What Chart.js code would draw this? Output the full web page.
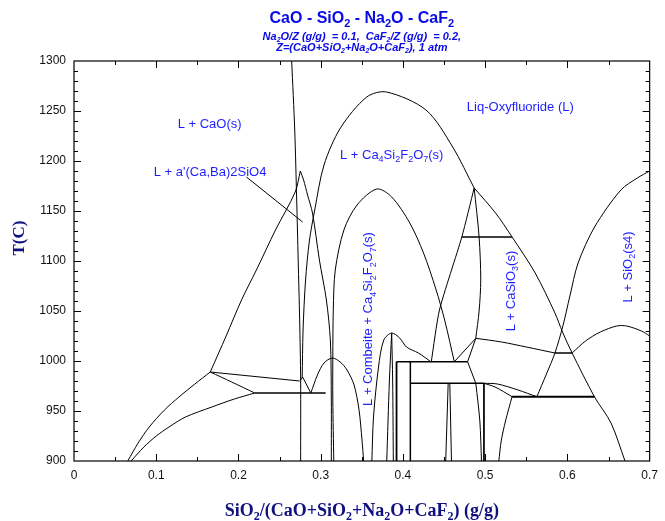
<!DOCTYPE html>
<html>
<head>
<meta charset="utf-8">
<script src="https://cdn.jsdelivr.net/npm/chart.js@4.4.1/dist/chart.umd.min.js"></script>
<style>
  html, body { margin: 0; padding: 0; background: #fff; }
  canvas { display: block; }
</style>
</head>
<body>
<canvas id="chart" width="665" height="521"></canvas>
<script>
// axis ticks
const xTicks = [0, 0.1, 0.2, 0.3, 0.4, 0.5, 0.6, 0.7];
const yTicks = [900, 950, 1000, 1050, 1100, 1150, 1200, 1250, 1300];

// phase boundaries, [SiO2 fraction, T(C)]
const caoLiquidus = [[0.2647,1300],[0.2684,1231],[0.2708,1161],[0.2726,1101],[0.2744,1041],[0.2756,981],[0.2756,900]];
const c2sLiquidusLow = [[0.0654,900],[0.078,918],[0.0915,934],[0.11,951],[0.1276,964],[0.147,977],[0.1657,989]];
const c2sLiquidusHigh = [[0.1657,989],[0.185,1025],[0.2037,1061],[0.2218,1091],[0.245,1131],[0.269,1169],[0.2752,1190]];
const c2sPeakRight = [[0.2752,1190],[0.2792,1181],[0.284,1166],[0.29,1148],[0.2984,1101],[0.3069,1061],[0.3117,1021],[0.3129,961],[0.3129,900]];
const solidusLow = [[0.0694,900],[0.085,914],[0.1,925],[0.1155,934],[0.1356,944],[0.1676,954],[0.195,962],[0.2198,968]];
const c2sBranch = [[0.1657,989],[0.1917,979],[0.2198,968]];
const tie989 = [[0.1657,989],[0.2744,980]];
const tie968 = [[0.2198,968],[0.306,968]];
const bumpLine = [[0.2756,981],[0.278,984],[0.288,968]];
const smallDome1 = [[0.288,968],[0.296,986],[0.304,998],[0.314,1003],[0.3237,999],[0.332,991],[0.3406,976],[0.3466,951],[0.3502,921],[0.3522,900]];
const ca4Liquidus = [[0.2775,983],[0.2785,1030],[0.2815,1080],[0.2862,1120],[0.2925,1150],[0.304,1196],[0.324,1233],[0.356,1264],[0.38,1269],[0.428,1251],[0.4605,1214],[0.4866,1173]];
const casio3Liquidus = [[0.4866,1173],[0.5126,1148],[0.5327,1124],[0.5608,1088],[0.5848,1048],[0.594,1029],[0.6057,1008],[0.633,964],[0.653,938],[0.67,900]];
const combeiteDome = [[0.3159,900],[0.3147,961],[0.3147,1003],[0.3153,1051],[0.3177,1091],[0.3282,1131],[0.3442,1156],[0.3682,1172],[0.3863,1164],[0.4083,1138],[0.425,1108],[0.44,1072],[0.451,1040],[0.4625,999]];
const smallDome2 = [[0.3622,900],[0.3642,944],[0.3703,994],[0.3767,1021],[0.3863,1028],[0.396,1023],[0.4043,1014],[0.4188,1008],[0.4344,999]];
const domeStem1 = [[0.3863,1028],[0.3835,980],[0.3803,900]];
const domeStem2 = [[0.3863,1028],[0.3875,980],[0.3883,900]];
const casio3LeftA = [[0.4866,1173],[0.4716,1124],[0.4444,1051],[0.4344,999]];
const casio3LeftB = [[0.4866,1173],[0.4926,1124],[0.4946,1081],[0.4926,1050],[0.4886,1023]];
const tie1124 = [[0.4716,1124],[0.5327,1124]];
const tie999 = [[0.3922,999.3],[0.4786,999.3]];
const tie978 = [[0.409,977.7],[0.4985,977.7]];
const wall392 = [[0.3922,999.3],[0.3922,900]];
const wall409 = [[0.409,999.3],[0.409,900]];
const link1 = [[0.4625,999.3],[0.4886,1022.7]];
const link2 = [[0.4786,999.3],[0.4886,1022.7]];
const link3 = [[0.4786,999.3],[0.4886,977.7]];
const stemA = [[0.455,977.7],[0.452,900]];
const stemB = [[0.457,977.7],[0.459,900]];
const stemC = [[0.4886,977.7],[0.4935,940],[0.4955,900]];
const stemD = [[0.4985,977.7],[0.4985,900]];
const line1022 = [[0.4886,1022.7],[0.52,1019],[0.55,1014],[0.5848,1008]];
const tie1008 = [[0.5848,1008],[0.6057,1008]];
const sio2Liquidus = [[0.5627,964],[0.5745,987],[0.5848,1008],[0.5945,1035],[0.603,1065],[0.613,1098],[0.633,1134],[0.665,1171],[0.685,1183],[0.7,1190]];
const domeRight = [[0.6057,1008],[0.622,1020],[0.64,1029],[0.66,1035],[0.672,1035],[0.69,1030],[0.7,1025]];
const tie964 = [[0.5327,964.3],[0.633,964.3]];
const curveX1 = [[0.4985,977.7],[0.515,977],[0.54,971],[0.5627,964.3]];
const curveX2 = [[0.4985,977.7],[0.512,974],[0.5327,964.3]];
const stemE = [[0.5327,964.3],[0.5247,940],[0.5195,920],[0.5166,900]];
const pointer = [[0.2097,1184],[0.278,1139]];

// [points, line width, tension]
const lines = [
  [caoLiquidus, 1, 0.3], [c2sLiquidusLow, 1, 0.3], [c2sLiquidusHigh, 1, 0.3],
  [c2sPeakRight, 1, 0.3], [solidusLow, 1, 0.3], [c2sBranch, 1, 0.3],
  [tie989, 1, 0], [tie968, 1.3, 0], [bumpLine, 1, 0], [smallDome1, 1, 0.3],
  [ca4Liquidus, 1, 0.3], [casio3Liquidus, 1, 0.3], [combeiteDome, 1, 0.3],
  [smallDome2, 1, 0.3], [domeStem1, 1, 0.3], [domeStem2, 1, 0.3],
  [casio3LeftA, 1, 0.2], [casio3LeftB, 1, 0.3], [tie1124, 1.3, 0],
  [tie999, 1.5, 0], [tie978, 1.5, 0], [wall392, 1.8, 0], [wall409, 1.5, 0],
  [link1, 1, 0], [link2, 1, 0], [link3, 1, 0], [stemA, 1, 0], [stemB, 1, 0],
  [stemC, 1, 0.3], [stemD, 1, 0], [line1022, 1, 0.3], [tie1008, 1.3, 0],
  [sio2Liquidus, 1, 0.3], [domeRight, 1, 0.3], [tie964, 2, 0],
  [curveX1, 1, 0.3], [curveX2, 1, 0.3], [stemE, 1, 0.3], [pointer, 1, 0]
];

// region labels: text ("_" marks a subscript char), x, T, rotated
const regionLabels = [
  ['L + CaO(s)', 0.1649, 1237, false],
  ["L + a'(Ca,Ba)2SiO4", 0.1655, 1189, false],
  ['L + Ca_4Si_2F_2O_7(s)', 0.3863, 1206, false],
  ['Liq-Oxyfluoride (L)', 0.5427, 1254, false],
  ['L + Combeite + Ca_4Si_2F_2O_7(s)', 0.3586, 1042, true],
  ['L + CaSiO_3(s)', 0.5319, 1070, true],
  ['L + SiO_2(s4)', 0.6739, 1094, true]
];

const SANS = '"Liberation Sans", Arial, sans-serif';
const SERIF = '"Liberation Serif", "Times New Roman", serif';

function parseRich(str) {
  const segs = [];
  let buf = '';
  for (let i = 0; i < str.length; i++) {
    if (str[i] === '_' && i + 1 < str.length) {
      if (buf) segs.push([buf, false]);
      buf = '';
      segs.push([str[i + 1], true]);
      i++;
    } else buf += str[i];
  }
  if (buf) segs.push([buf, false]);
  return segs;
}

function drawRich(ctx, str, x, y, size, style, family, color) {
  const segs = parseRich(str);
  const big = style + ' ' + size + 'px ' + family;
  const small = style + ' ' + Math.round(size * 0.68) + 'px ' + family;
  let w = 0;
  segs.forEach(s => { ctx.font = s[1] ? small : big; w += ctx.measureText(s[0]).width; });
  let cx = x - w / 2;
  ctx.fillStyle = color;
  ctx.textBaseline = 'middle';
  ctx.textAlign = 'left';
  segs.forEach(s => {
    ctx.font = s[1] ? small : big;
    ctx.fillText(s[0], cx, s[1] ? y + size * 0.32 : y);
    cx += ctx.measureText(s[0]).width;
  });
}

const decorations = {
  id: 'decorations',
  afterDraw(chart) {
    const ctx = chart.ctx;
    const a = chart.chartArea;
    const xs = chart.scales.x, ys = chart.scales.y;
    ctx.save();

    // frame
    ctx.strokeStyle = '#000';
    ctx.lineWidth = 1.2;
    ctx.strokeRect(a.left, a.top, a.right - a.left, a.bottom - a.top);

    // inward ticks on all four sides
    ctx.lineWidth = 1;
    ctx.beginPath();
    for (let i = 1; i < 14; i++) {
      const v = i * 0.05;
      const px = Math.round(xs.getPixelForValue(v)) + 0.5;
      const len = i % 2 === 0 ? 7 : 4;
      ctx.moveTo(px, a.bottom); ctx.lineTo(px, a.bottom - len);
      ctx.moveTo(px, a.top); ctx.lineTo(px, a.top + len);
    }
    for (let t = 910; t < 1300; t += 10) {
      const py = Math.round(ys.getPixelForValue(t)) + 0.5;
      const len = t % 50 === 0 ? 7 : 4;
      ctx.moveTo(a.left, py); ctx.lineTo(a.left + len, py);
      ctx.moveTo(a.right, py); ctx.lineTo(a.right - len, py);
    }
    ctx.stroke();

    // region labels
    regionLabels.forEach(l => {
      const px = xs.getPixelForValue(l[1]);
      const py = ys.getPixelForValue(l[2]);
      ctx.save();
      ctx.translate(px, py);
      if (l[3]) ctx.rotate(-Math.PI / 2);
      drawRich(ctx, l[0], 0, 0, 13, 'normal', SANS, '#1e1eff');
      ctx.restore();
    });

    // title
    const cx = (a.left + a.right) / 2;
    drawRich(ctx, 'CaO - SiO_2 - Na_2O - CaF_2', cx, 19, 16, 'bold', SANS, '#0a0ae6');
    drawRich(ctx, 'Na_2O/Z (g/g)  = 0.1,  CaF_2/Z (g/g)  = 0.2,', cx, 37, 11, 'italic bold', SANS, '#0a0ae6');
    drawRich(ctx, 'Z=(CaO+SiO_2+Na_2O+CaF_2), 1 atm', cx, 48, 11, 'italic bold', SANS, '#0a0ae6');

    // axis titles
    drawRich(ctx, 'SiO_2/(CaO+SiO_2+Na_2O+CaF_2) (g/g)', cx, 511, 18, 'bold', SERIF, '#101080');
    ctx.save();
    ctx.translate(20, 238);
    ctx.rotate(-Math.PI / 2);
    drawRich(ctx, 'T(C)', 0, 0, 17, 'bold', SERIF, '#101080');
    ctx.restore();

    ctx.restore();
  }
};

const datasets = lines.map(l => ({
  data: l[0].map(p => ({ x: p[0], y: p[1] })),
  showLine: true,
  borderColor: '#000',
  borderWidth: l[1],
  tension: l[2],
  pointRadius: 0,
  fill: false
}));

new Chart(document.getElementById('chart').getContext('2d'), {
  type: 'scatter',
  data: { datasets },
  options: {
    responsive: false,
    animation: false,
    layout: { padding: { top: 61, right: 10, left: 0, bottom: 0 } },
    plugins: { legend: { display: false }, tooltip: { enabled: false }, title: { display: false } },
    scales: {
      x: {
        type: 'linear', min: 0, max: 0.7,
        afterFit: s => { s.height = 60; },
        afterBuildTicks: s => { s.ticks = xTicks.map(v => ({ value: v })); },
        grid: { display: false, drawTicks: false },
        border: { display: false },
        ticks: {
          padding: 7, color: '#111', font: { family: SANS, size: 12 },
          callback: v => (v === 0 ? '0' : v.toFixed(1))
        }
      },
      y: {
        type: 'linear', min: 900, max: 1300,
        afterFit: s => { s.width = 74; },
        afterBuildTicks: s => { s.ticks = yTicks.map(v => ({ value: v })); },
        grid: { display: false, drawTicks: false },
        border: { display: false },
        ticks: { padding: 8, color: '#111', font: { family: SANS, size: 12 }, callback: v => String(v) }
      }
    }
  },
  plugins: [decorations]
});
</script>
</body>
</html>
